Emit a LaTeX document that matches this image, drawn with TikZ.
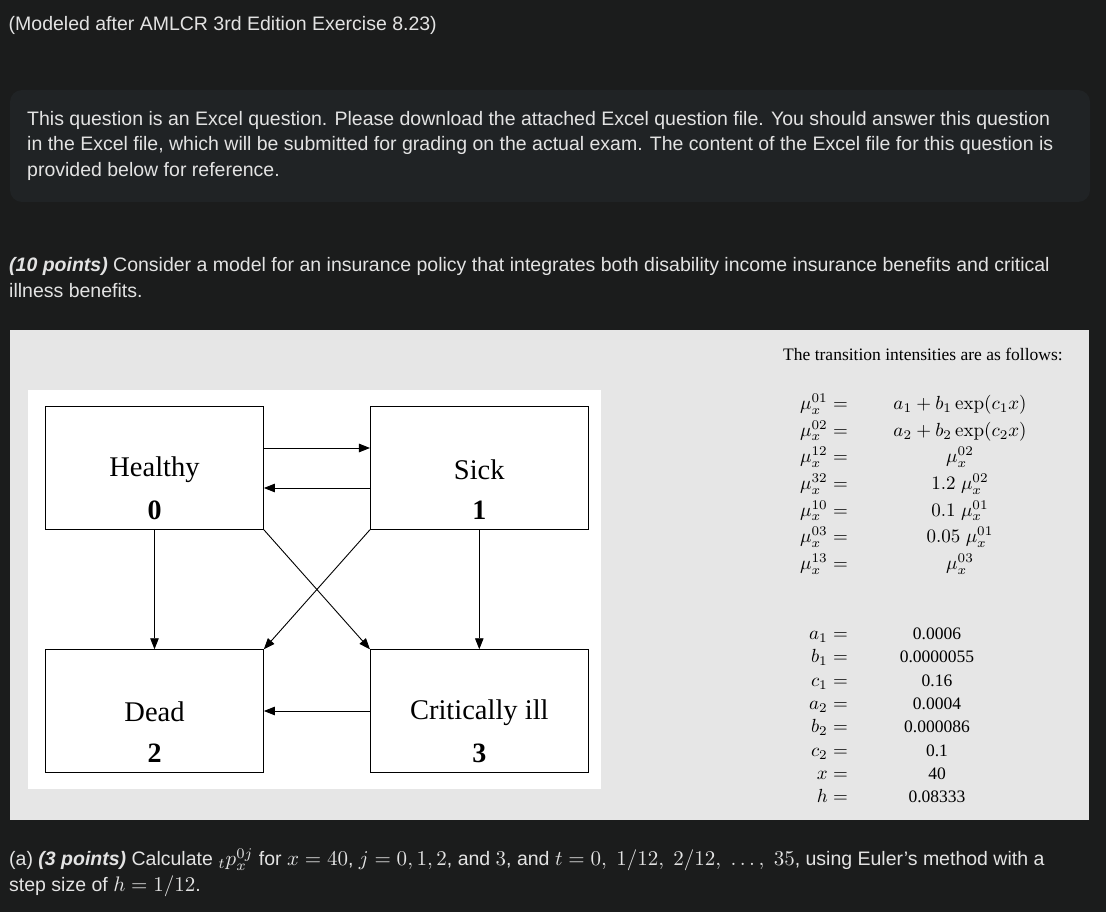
\documentclass[tikz,border=0pt]{standalone}
\usepackage{graphicx}
\usepackage[no-math]{fontspec}
\setmainfont{Liberation Sans}
\newfontfamily\timesface{Liberation Serif}
\usetikzlibrary{arrows.meta}
\definecolor{bgdark}{RGB}{27,28,28}
\definecolor{panelc}{RGB}{32,35,37}
\definecolor{uitext}{RGB}{227,227,227}
\definecolor{greyp}{RGB}{230,230,230}
\newcommand{\fsz}[1]{\fontsize{#1}{#1}\selectfont}
\newcommand{\mux}[1]{\mu_x^{#1}}
% math scaled from a native 10pt size
\newcommand{\bmath}[1]{\scalebox{2.1}{\fsz{10}$#1$}}
\newcommand{\gmath}[1]{\scalebox{1.9}{\fsz{10}$#1$}}
\tikzset{
  uitxt/.style={anchor=base west, text=uitext, inner sep=0pt, font=\fsz{19.5}},
  statebox/.style={draw=black, line width=0.9pt, fill=white, minimum width=217.8pt, minimum height=122.6pt, inner sep=0pt},
  statelbl/.style={anchor=base, inner sep=0pt, font=\timesface\fsz{28.5}},
  statenum/.style={anchor=base, inner sep=0pt, font=\timesface\bfseries\fsz{28}},
  arr/.style={line width=0.9pt, -{Triangle[length=11pt,width=8.5pt]}},
  eqleft/.style={anchor=base east, inner sep=0pt},
  eqright/.style={anchor=base, inner sep=0pt},
  valtxt/.style={anchor=base, inner sep=0pt, font=\timesface\fsz{17.5}},
}
\begin{document}
\begin{tikzpicture}[x=1pt,y=-1pt]
\useasboundingbox (0,0) rectangle (1106,912);
\fill[bgdark] (0,0) rectangle (1106,912);
\fill[panelc, rounded corners=12pt] (10,90) rectangle (1090,202);
\fill[greyp] (10,330) rectangle (1089,820);
\fill[white] (28,390) rectangle (601,789);

% texts on dark background
\node[uitxt] (t0) at (8.5,31) {(Modeled after AMLCR 3rd Edition Exercise 8.23)};
\node[uitxt] (p1) at (27,125.5) {This question is an Excel question. Please download the attached Excel question file. You should answer this question};
\node[uitxt] (p2) at (27,151) {in the Excel file, which will be submitted for grading on the actual exam. The content of the Excel file for this question is};
\node[uitxt] (p3) at (27,176.5) {provided below for reference.};
\node[uitxt] (q1) at (9,271.7) {\textbf{\textit{(10 points)}} Consider a model for an insurance policy that integrates both disability income insurance benefits and critical};
\node[uitxt] (q2) at (9,297.3) {illness benefits.};
\node[uitxt] (a1) at (9,865.7) {(a) \textbf{\textit{(3 points)}} Calculate \bmath{{}_tp_x^{0j}} for \bmath{x=40}, \bmath{j=0,1,2}, and \bmath{3}, and \bmath{t=0,\;1/12,\;2/12,\;\ldots,\;35}, using Euler's method with a};
\node[uitxt] (a2) at (9,891) {step size of \bmath{h=1/12}.};

% state diagram
\node[statebox] (H) at (154.5,468) {};
\node[statebox] (S) at (479.3,468) {};
\node[statebox] (D) at (154.5,711) {};
\node[statebox] (C) at (479.3,711) {};
\node[statelbl] (lH) at (154.5,476.7) {Healthy};
\node[statenum] (nH) at (154.5,519.3) {0};
\node[statelbl] (lS) at (479.3,479.3) {Sick};
\node[statenum] (nS) at (479.3,519.7) {1};
\node[statelbl] (lD) at (154.5,721.7) {Dead};
\node[statenum] (nD) at (154.5,762.7) {2};
\node[statelbl] (lC) at (479.3,719.3) {Critically ill};
\node[statenum] (nC) at (479.3,762.7) {3};

\draw[arr] ([yshift=20pt]H.east) -- ([yshift=20pt]S.west);
\draw[arr] ([yshift=-20pt]S.west) -- ([yshift=-20pt]H.east);
\draw[arr] (H.south) -- (D.north);
\draw[arr] (S.south) -- (C.north);
\draw[arr] (C.west) -- (D.east);
\draw[arr] (H.south east) -- (C.north west);
\draw[arr] (S.south west) -- (D.north east);

% intensities
\node[anchor=base west, inner sep=0pt, font=\timesface\fsz{17.5}] (ttl) at (783,360.7) {The transition intensities are as follows:};
\node[eqleft] (m1) at (848,409.5) {\gmath{\mux{01} =}};
\node[eqleft] (m2) at (848,436.2) {\gmath{\mux{02} =}};
\node[eqleft] (m3) at (848,462.8) {\gmath{\mux{12} =}};
\node[eqleft] (m4) at (848,489.5) {\gmath{\mux{32} =}};
\node[eqleft] (m5) at (848,516.2) {\gmath{\mux{10} =}};
\node[eqleft] (m6) at (848,542.8) {\gmath{\mux{03} =}};
\node[eqleft] (m7) at (848,569.5) {\gmath{\mux{13} =}};
\node[eqright] (r1) at (960,409.5) {\gmath{a_1 + b_1\exp(c_1x)}};
\node[eqright] (r2) at (960,436.2) {\gmath{a_2 + b_2\exp(c_2x)}};
\node[eqright] (r3) at (960,462.8) {\gmath{\mux{02}}};
\node[eqright] (r4) at (960,489.5) {\gmath{1.2\;\mux{02}}};
\node[eqright] (r5) at (960,516.2) {\gmath{0.1\;\mux{01}}};
\node[eqright] (r6) at (960,542.8) {\gmath{0.05\;\mux{01}}};
\node[eqright] (r7) at (960,569.5) {\gmath{\mux{03}}};

% parameters
\node[eqleft] (k1) at (848,639.5) {\gmath{a_1 =}};
\node[eqleft] (k2) at (848,662.8) {\gmath{b_1 =}};
\node[eqleft] (k3) at (848,686.2) {\gmath{c_1 =}};
\node[eqleft] (k4) at (848,709.5) {\gmath{a_2 =}};
\node[eqleft] (k5) at (848,732.8) {\gmath{b_2 =}};
\node[eqleft] (k6) at (848,756.2) {\gmath{c_2 =}};
\node[eqleft] (k7) at (848,779.5) {\gmath{x =}};
\node[eqleft] (k8) at (848,802.8) {\gmath{h =}};
\node[valtxt] (v1) at (937,639.5) {0.0006};
\node[valtxt] (v2) at (937,662.8) {0.0000055};
\node[valtxt] (v3) at (937,686.2) {0.16};
\node[valtxt] (v4) at (937,709.5) {0.0004};
\node[valtxt] (v5) at (937,732.8) {0.000086};
\node[valtxt] (v6) at (937,756.2) {0.1};
\node[valtxt] (v7) at (937,779.5) {40};
\node[valtxt] (v8) at (937,802.8) {0.08333};
\end{tikzpicture}
\end{document}
